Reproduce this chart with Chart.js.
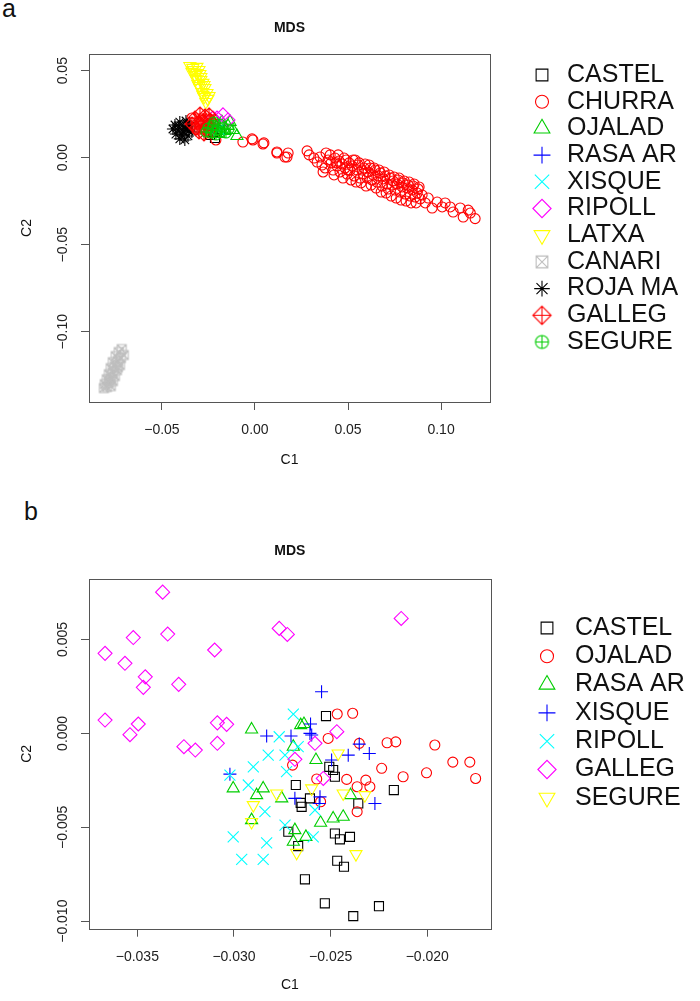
<!DOCTYPE html>
<html><head><meta charset="utf-8">
<script src="https://cdn.jsdelivr.net/npm/chart.js@4/dist/chart.umd.min.js"></script>
<style>
html,body{margin:0;padding:0;background:#fff;}
body{width:700px;height:1001px;position:relative;overflow:hidden;font-family:"Liberation Sans",Arial,sans-serif;}
.wrap{position:absolute;left:0;width:700px;}
#wa{top:0;height:480px;}
#wb{top:480px;height:521px;}
.lab{position:absolute;font-size:25px;color:#111;line-height:1;}
</style></head><body>
<div class="lab" style="left:2px;top:-4px">a</div>
<div class="lab" style="left:24px;top:499px">b</div>
<div class="wrap" id="wa"><canvas id="ca" width="700" height="480" style="width:700px;height:480px"></canvas></div>
<div class="wrap" id="wb"><canvas id="cb" width="700" height="521" style="width:700px;height:521px"></canvas></div>
<script>
// ---------------- Panel a data ----------------
const A_NAMES = ['CASTEL','CHURRA','OJALAD','RASA AR','XISQUE','RIPOLL','LATXA','CANARI','ROJA MA','GALLEG','SEGURE'];
const A_XTICKS = [-0.05, 0, 0.05, 0.10];
const A_XLABELS = ['\u22120.05','0.00','0.05','0.10'];
const A_YTICKS = [-0.10, -0.05, 0, 0.05];
const A_YLABELS = ['\u22120.10','\u22120.05','0.00','0.05'];

const A_CASTEL = [[-0.0215,0.0113],[-0.0188,0.0159],[-0.0242,0.0131],[-0.0226,0.0148],[-0.0205,0.0142]];
const A_CHURRA = [
 [-0.0339,0.0228],[-0.0301,0.0205],[-0.0269,0.0171],[-0.0242,0.0142],[-0.0210,0.0102],[-0.0065,0.0090],
 [-0.0016,0.0108],[-0.0011,0.0102],[0.0043,0.0079],[0.0048,0.0085],[0.0118,0.0033],[0.0118,0.0027],
 [0.0172,0.0004],[0.0161,0.0004],[0.0178,0.0027],[0.0280,0.0039],[0.0291,0.0016],[0.0334,-0.0025],[0.0317,-0.0002],
 [0.0350,0.0004],[0.0360,-0.0042],[0.0377,-0.0059],[0.0393,-0.0013],[0.0404,0.0016],[0.0409,-0.0030],
 [0.0420,-0.0071],[0.0430,-0.0002],[0.0441,-0.0048],[0.0452,-0.0019],[0.0457,-0.0082],[0.0468,-0.0036],
 [0.0479,-0.0002],[0.0484,-0.0059],[0.0495,-0.0094],[0.0506,-0.0030],[0.0511,-0.0071],[0.0522,-0.0048],
 [0.0533,-0.0105],[0.0538,-0.0013],[0.0549,-0.0071],[0.0554,-0.0042],[0.0565,-0.0117],[0.0576,-0.0071],
 [0.0581,-0.0094],[0.0592,-0.0036],[0.0603,-0.0117],[0.0608,-0.0082],[0.0619,-0.0059],[0.0629,-0.0128],
 [0.0635,-0.0099],[0.0646,-0.0071],[0.0656,-0.0140],[0.0662,-0.0105],[0.0673,-0.0088],[0.0683,-0.0163],
 [0.0689,-0.0122],[0.0699,-0.0105],[0.0710,-0.0151],[0.0716,-0.0180],[0.0726,-0.0117],[0.0737,-0.0157],
 [0.0742,-0.0134],[0.0753,-0.0186],[0.0764,-0.0151],[0.0769,-0.0128],[0.0780,-0.0197],[0.0791,-0.0168],
 [0.0796,-0.0145],[0.0807,-0.0209],[0.0818,-0.0174],[0.0823,-0.0157],[0.0834,-0.0220],[0.0845,-0.0186],
 [0.0850,-0.0163],[0.0861,-0.0226],[0.0872,-0.0203],[0.0877,-0.0180],[0.0888,-0.0237],
 [0.0366,-0.0082],[0.0382,0.0027],[0.0425,-0.0099],[0.0447,0.0016],[0.0473,-0.0117],[0.0490,-0.0013],
 [0.0516,-0.0128],[0.0527,-0.0013],[0.0543,-0.0140],[0.0560,-0.0030],[0.0570,-0.0145],[0.0586,-0.0059],
 [0.0597,-0.0163],[0.0613,-0.0042],[0.0624,-0.0157],[0.0640,-0.0059],[0.0651,-0.0174],[0.0667,-0.0071],
 [0.0678,-0.0197],[0.0694,-0.0082],[0.0705,-0.0203],[0.0721,-0.0099],[0.0732,-0.0220],[0.0748,-0.0111],
 [0.0759,-0.0232],[0.0775,-0.0117],[0.0785,-0.0243],[0.0802,-0.0134],[0.0812,-0.0249],[0.0829,-0.0140],
 [0.0839,-0.0260],[0.0855,-0.0151],[0.0866,-0.0260],[0.0882,-0.0168],[0.0898,-0.0214],[0.0500,-0.0071],[0.0436,-0.0030],
 [0.0931,-0.0232],[0.0979,-0.0255],[0.1022,-0.0260],[0.1049,-0.0283],[0.0952,-0.0289],[0.1065,-0.0312],
 [0.1103,-0.0289],[0.1146,-0.0301],[0.1119,-0.0341],[0.1183,-0.0350],[0.1006,-0.0283],[0.0915,-0.0260],[0.1157,-0.0318]];
const A_OJALAD = [[-0.0215,0.0217],[-0.0178,0.0205],[-0.0145,0.0182],[-0.0118,0.0159],[-0.0097,0.0125],
 [-0.0161,0.0154],[-0.0194,0.0136],[-0.0134,0.0205],[-0.0237,0.0182]];
const A_RASA = [[-0.0231,0.0171],[-0.0199,0.0182],[-0.0258,0.0194]];
const A_XISQUE = [[-0.0221,0.0182],[-0.0194,0.0165],[-0.0247,0.0159]];
const A_RIPOLL = [[-0.0172,0.0246],[-0.0204,0.0228],[-0.0145,0.0217],[-0.0226,0.0228]];
const A_LATXA = [[-0.0350,0.0527],[-0.0334,0.0516],[-0.0312,0.0522],[-0.0301,0.0504],[-0.0339,0.0493],
 [-0.0323,0.0476],[-0.0296,0.0481],[-0.0317,0.0453],[-0.0291,0.0447],[-0.0307,0.0424],[-0.0280,0.0430],
 [-0.0296,0.0401],[-0.0269,0.0401],[-0.0285,0.0378],[-0.0258,0.0372],[-0.0274,0.0349],[-0.0253,0.0338],
 [-0.0264,0.0320],[-0.0334,0.0504],[-0.0312,0.0487],[-0.0291,0.0464],[-0.0301,0.0412],[-0.0274,0.0418],
 [-0.0280,0.0361],[-0.0247,0.0355]];
const A_CANARI = [[-0.0716,-0.1100],[-0.0732,-0.1117],[-0.0705,-0.1134],[-0.0748,-0.1140],[-0.0721,-0.1151],
 [-0.0737,-0.1169],[-0.0764,-0.1175],[-0.0726,-0.1192],[-0.0753,-0.1198],[-0.0775,-0.1209],[-0.0742,-0.1221],
 [-0.0764,-0.1232],[-0.0785,-0.1244],[-0.0753,-0.1255],[-0.0775,-0.1267],[-0.0796,-0.1273],[-0.0764,-0.1284],
 [-0.0785,-0.1295],[-0.0807,-0.1301],[-0.0775,-0.1313],[-0.0796,-0.1318],[-0.0812,-0.1324],[-0.0737,-0.1204],[-0.0780,-0.1278]];
const A_ROJA = [[-0.0430,0.0188],[-0.0404,0.0205],[-0.0371,0.0211],[-0.0350,0.0182],[-0.0414,0.0159],
 [-0.0382,0.0171],[-0.0355,0.0154],[-0.0425,0.0136],[-0.0393,0.0131],[-0.0360,0.0125],[-0.0339,0.0148],
 [-0.0404,0.0108],[-0.0377,0.0102],[-0.0441,0.0165],[-0.0409,0.0182],[-0.0366,0.0194],[-0.0387,0.0148],[-0.0371,0.0165]];
const A_GALLEG = [[-0.0323,0.0228],[-0.0296,0.0251],[-0.0269,0.0240],[-0.0242,0.0217],[-0.0307,0.0200],
 [-0.0280,0.0211],[-0.0253,0.0188],[-0.0226,0.0194],[-0.0317,0.0171],[-0.0291,0.0177],[-0.0264,0.0159],
 [-0.0237,0.0165],[-0.0301,0.0148],[-0.0274,0.0136],[-0.0339,0.0194],[-0.0247,0.0246]];
const A_SEGURE = [[-0.0253,0.0171],[-0.0226,0.0188],[-0.0199,0.0159],[-0.0172,0.0177],[-0.0237,0.0142],
 [-0.0210,0.0131],[-0.0183,0.0148],[-0.0156,0.0142],[-0.0221,0.0205],[-0.0188,0.0194],[-0.0140,0.0165],[-0.0264,0.0148]];

// ---------------- Panel b data ----------------
const B_NAMES = ['CASTEL','OJALAD','RASA AR','XISQUE','RIPOLL','GALLEG','SEGURE'];
const B_XTICKS = [-0.035, -0.030, -0.025, -0.020];
const B_XLABELS = ['\u22120.035','\u22120.030','\u22120.025','\u22120.020'];
const B_YTICKS = [-0.010, -0.005, 0, 0.005];
const B_YLABELS = ['\u22120.010','\u22120.005','0.000','0.005'];

const B_CASTEL = [[-0.02524,0.00092],[-0.02507,-0.00178],[-0.02487,-0.00195],[-0.02478,-0.00231],[-0.02680,-0.00275],
 [-0.02655,-0.00370],[-0.02650,-0.00391],[-0.02607,-0.00346],[-0.02357,-0.00373],[-0.02173,-0.00302],[-0.02719,-0.00524],
 [-0.02668,-0.00600],[-0.02478,-0.00533],[-0.02400,-0.00551],[-0.02452,-0.00564],[-0.02466,-0.00678],[-0.02431,-0.00710],
 [-0.02633,-0.00777],[-0.02530,-0.00905],[-0.02383,-0.00973],[-0.02250,-0.00920]];
const B_OJALAD = [[-0.02466,0.00103],[-0.02386,0.00107],[-0.02513,-0.00027],[-0.02352,-0.00053],[-0.02208,-0.00050],
 [-0.02163,-0.00045],[-0.01961,-0.00062],[-0.02697,-0.00169],[-0.02236,-0.00186],[-0.02125,-0.00231],[-0.02004,-0.00210],
 [-0.02417,-0.00245],[-0.02572,-0.00243],[-0.02363,-0.00284],[-0.02318,-0.00249],[-0.02297,-0.00284],[-0.02552,-0.00364],
 [-0.02363,-0.00417],[-0.01868,-0.00153],[-0.01780,-0.00153],[-0.01750,-0.00240]];
const B_RASA = [[-0.02909,0.00021],[-0.02655,0.00044],[-0.02638,0.00050],[-0.02693,-0.00071],[-0.02576,-0.00142],
 [-0.03004,-0.00293],[-0.02849,-0.00293],[-0.02883,-0.00329],[-0.02753,-0.00346],[-0.02397,-0.00329],[-0.02909,-0.00462],
 [-0.02552,-0.00476],[-0.02487,-0.00453],[-0.02435,-0.00444],[-0.02685,-0.00515],[-0.02693,-0.00577],[-0.02628,-0.00551]];
const B_XISQUE = [[-0.02547,0.00222],[-0.02831,-0.00014],[-0.02705,-0.00014],[-0.02604,0.00050],[-0.02607,0.00000],
 [-0.02598,-0.00009],[-0.02352,-0.00057],[-0.02300,-0.00107],[-0.02409,-0.00116],[-0.02495,-0.00142],[-0.03021,-0.00217],
 [-0.02685,-0.00346],[-0.02555,-0.00338],[-0.02559,-0.00373],[-0.02271,-0.00373]];
const B_RIPOLL = [[-0.02693,0.00103],[-0.02766,-0.00018],[-0.02668,-0.00071],[-0.02823,-0.00116],[-0.02736,-0.00116],
 [-0.02900,-0.00178],[-0.02728,-0.00204],[-0.03021,-0.00222],[-0.02926,-0.00275],[-0.02840,-0.00417],[-0.02581,-0.00408],
 [-0.02736,-0.00488],[-0.02590,-0.00551],[-0.03004,-0.00551],[-0.02831,-0.00583],[-0.02960,-0.00671],[-0.02849,-0.00671]];
const B_GALLEG = [[-0.03369,0.00752],[-0.03521,0.00510],[-0.03343,0.00529],[-0.03667,0.00426],[-0.03564,0.00373],
 [-0.03459,0.00301],[-0.03469,0.00245],[-0.03286,0.00261],[-0.03100,0.00444],[-0.02766,0.00559],[-0.02724,0.00527],
 [-0.02135,0.00612],[-0.03667,0.00071],[-0.03495,0.00050],[-0.03538,-0.00007],[-0.03086,0.00056],[-0.03038,0.00048],
 [-0.03259,-0.00071],[-0.03200,-0.00089],[-0.03086,-0.00053],[-0.02468,0.00009],[-0.02581,-0.00053],[-0.02685,-0.00138],[-0.02538,-0.00240]];
const B_SEGURE = [[-0.02461,-0.00107],[-0.02779,-0.00320],[-0.02900,-0.00382],[-0.02598,-0.00293],[-0.02435,-0.00320],
 [-0.02323,-0.00329],[-0.02909,-0.00472],[-0.02676,-0.00636],[-0.02369,-0.00643]];

// ---------------- styling ----------------
const PAL = ['#000000','#FF0000','#00CD00','#0000FF','#00FFFF','#FF00FF','#FFFF00','#BEBEBE'];
const FONT = '"Liberation Sans", Arial, sans-serif';

function symCanvas(kind, color, size, lw) {
  const s = Math.ceil(size + 4);
  const c = document.createElement('canvas');
  c.width = s; c.height = s;
  const g = c.getContext('2d');
  g.strokeStyle = color; g.lineWidth = lw;
  const m = s / 2, h = size / 2;
  g.beginPath();
  if (kind === 'boxX') {
    g.rect(m - h, m - h, size, size);
    g.moveTo(m - h, m - h); g.lineTo(m + h, m + h);
    g.moveTo(m + h, m - h); g.lineTo(m - h, m + h);
  } else if (kind === 'diamondPlus') {
    g.moveTo(m, m - h); g.lineTo(m + h, m); g.lineTo(m, m + h); g.lineTo(m - h, m); g.closePath();
    g.moveTo(m, m - h); g.lineTo(m, m + h); g.moveTo(m - h, m); g.lineTo(m + h, m);
  } else if (kind === 'circlePlus') {
    g.arc(m, m, h, 0, Math.PI * 2);
    g.moveTo(m, m - h); g.lineTo(m, m + h); g.moveTo(m - h, m); g.lineTo(m + h, m);
  }
  g.stroke();
  return c;
}

function symStyle(pch, color, k) {
  switch (pch) {
    case 0: return {style: 'rect', r: 6.4 * k, rot: 0};
    case 1: return {style: 'circle', r: 5 * k, rot: 0};
    case 2: return {style: 'triangle', r: 7 * k, rot: 0};
    case 3: return {style: 'cross', r: 6.5 * k, rot: 0};
    case 4: return {style: 'crossRot', r: 7.8 * k, rot: 0};
    case 5: return {style: 'rectRot', r: 7 * k, rot: 0};
    case 6: return {style: 'triangle', r: 7 * k, rot: 180};
    case 7: return {style: symCanvas('boxX', color, 9 * k, 1.1), r: 5 * k, rot: 0};
    case 8: return {style: 'star', r: 6 * k, rot: 0};
    case 9: return {style: symCanvas('diamondPlus', color, 14 * k, 1.1), r: 7 * k, rot: 0};
    case 10: return {style: symCanvas('circlePlus', color, 10 * k, 1.1), r: 5 * k, rot: 0};
  }
}

const boxPlugin = {
  id: 'rbox',
  afterDatasetsDraw(chart) {
    const a = chart.chartArea, ctx = chart.ctx;
    ctx.save();
    ctx.strokeStyle = '#555'; ctx.lineWidth = 1;
    ctx.strokeRect(Math.round(a.left) + 0.5, Math.round(a.top) + 0.5, Math.round(a.right - a.left), Math.round(a.bottom - a.top));
    ctx.restore();
  }
};

const legendPlugin = {
  id: 'rlegend',
  afterDraw(chart, args, o) {
    const ctx = chart.ctx;
    ctx.save();
    chart.data.datasets.forEach((ds, i) => {
      const y = o.y0 + i * o.dy;
      const lg = ds._leg;
      ctx.strokeStyle = ds.pointBorderColor;
      ctx.lineWidth = ds.pointBorderWidth;
      ctx.fillStyle = 'rgba(0,0,0,0)';
      if (typeof lg.style === 'string') {
        Chart.helpers.drawPoint(ctx, {pointStyle: lg.style, radius: lg.r, rotation: lg.rot, borderWidth: ds.pointBorderWidth}, o.sx, y);
      } else {
        ctx.drawImage(lg.style, o.sx - lg.style.width / 2, y - lg.style.height / 2);
      }
      ctx.fillStyle = '#111';
      ctx.font = o.font;
      ctx.textBaseline = 'middle';
      ctx.textAlign = 'left';
      ctx.fillText(ds.label, o.tx, y);
    });
    ctx.restore();
  }
};

function buildChart(id, names, groups, pchs, cols, S) {
  const datasets = groups.map((pts, i) => {
    const st = symStyle(pchs[i], cols[i], 1);
    const lg = symStyle(pchs[i], cols[i], S.legScale);
    return {
      label: names[i],
      data: pts.map(p => ({x: p[0], y: p[1]})),
      pointStyle: st.style, pointRadius: st.r, pointHoverRadius: st.r, pointRotation: st.rot,
      pointBorderColor: cols[i], pointBackgroundColor: 'rgba(0,0,0,0)', pointBorderWidth: 1.1,
      showLine: false, order: -i, _leg: lg
    };
  });
  const tickFont = {family: FONT, size: 14};
  return new Chart(document.getElementById(id), {
    type: 'scatter',
    data: {datasets},
    options: {
      responsive: false, animation: false, devicePixelRatio: 1, events: [],
      layout: {padding: {left: 0, right: S.padRight, top: 0, bottom: 0}},
      plugins: {
        legend: {display: false}, tooltip: {enabled: false},
        title: {display: true, text: 'MDS', fullSize: false, color: '#111',
          font: {family: FONT, size: 14, weight: 'bold'},
          padding: {top: S.titleTop, bottom: S.titleBottom}},
        rlegend: S.legend
      },
      scales: {
        x: {
          type: 'linear', min: S.xmin, max: S.xmax,
          afterFit: s => { s.height = S.xH; },
          afterBuildTicks: s => { s.ticks = S.xticks.map(v => ({value: v})); },
          ticks: {font: tickFont, color: '#222', padding: 11.6, maxRotation: 0, autoSkip: false,
            callback: (v, i) => S.xlabels[i]},
          grid: {display: true, drawOnChartArea: false, drawTicks: true, tickLength: 8, color: '#555', lineWidth: 1},
          border: {display: false},
          title: {display: true, text: 'C1', color: '#111', font: tickFont, padding: {top: 0, bottom: S.xTitleBottom}}
        },
        y: {
          type: 'linear', min: S.ymin, max: S.ymax,
          afterFit: s => { s.width = 89; },
          afterBuildTicks: s => { s.ticks = S.yticks.map(v => ({value: v})); },
          ticks: {font: tickFont, color: '#222', padding: S.yTickPad, minRotation: 90, maxRotation: 90,
            crossAlign: 'center', autoSkip: false, callback: (v, i) => S.ylabels[i]},
          grid: {display: true, drawOnChartArea: false, drawTicks: true, tickLength: 8, color: '#555', lineWidth: 1},
          border: {display: false},
          title: {display: true, text: 'C2', color: '#111', font: tickFont, padding: {top: 18.6, bottom: 0}}
        }
      }
    },
    plugins: [boxPlugin, legendPlugin]
  });
}

const A_GROUPS = [A_CASTEL, A_CHURRA, A_OJALAD, A_RASA, A_XISQUE, A_RIPOLL, A_LATXA, A_CANARI, A_ROJA, A_GALLEG, A_SEGURE];
const A_PCH = [0,1,2,3,4,5,6,7,8,9,10];
const A_COL = A_PCH.map(p => PAL[p % 8]);
buildChart('ca', A_NAMES, A_GROUPS, A_PCH, A_COL, {
  xmin: -0.0892, xmax: 0.1263, ymin: -0.1404, ymax: 0.0596,
  xticks: A_XTICKS, xlabels: A_XLABELS, yticks: A_YTICKS, ylabels: A_YLABELS,
  padRight: 210, titleTop: 19.6, titleBottom: 17.6, xH: 78, xTitleBottom: 11.6, yTickPad: 0.3,
  legScale: 1.3,
  legend: {sx: 542, tx: 567, y0: 75, dy: 26.7, font: '25px ' + FONT}
});

const B_GROUPS = [B_CASTEL, B_OJALAD, B_RASA, B_XISQUE, B_RIPOLL, B_GALLEG, B_SEGURE];
const B_PCH = [0,1,2,3,4,5,6];
const B_COL = B_PCH.map(p => PAL[p]);
buildChart('cb', B_NAMES, B_GROUPS, B_PCH, B_COL, {
  xmin: -0.0375, xmax: -0.01672, ymin: -0.0104, ymax: 0.00822,
  xticks: B_XTICKS, xlabels: B_XLABELS, yticks: B_YTICKS, ylabels: B_YLABELS,
  padRight: 209.3, titleTop: 62.6, titleBottom: 19.6, xH: 72.3, xTitleBottom: 7.6, yTickPad: -3.6,
  legScale: 1.3,
  legend: {sx: 547, tx: 575, y0: 148, dy: 28.3, font: '25px ' + FONT}
});
</script>
</body></html>
